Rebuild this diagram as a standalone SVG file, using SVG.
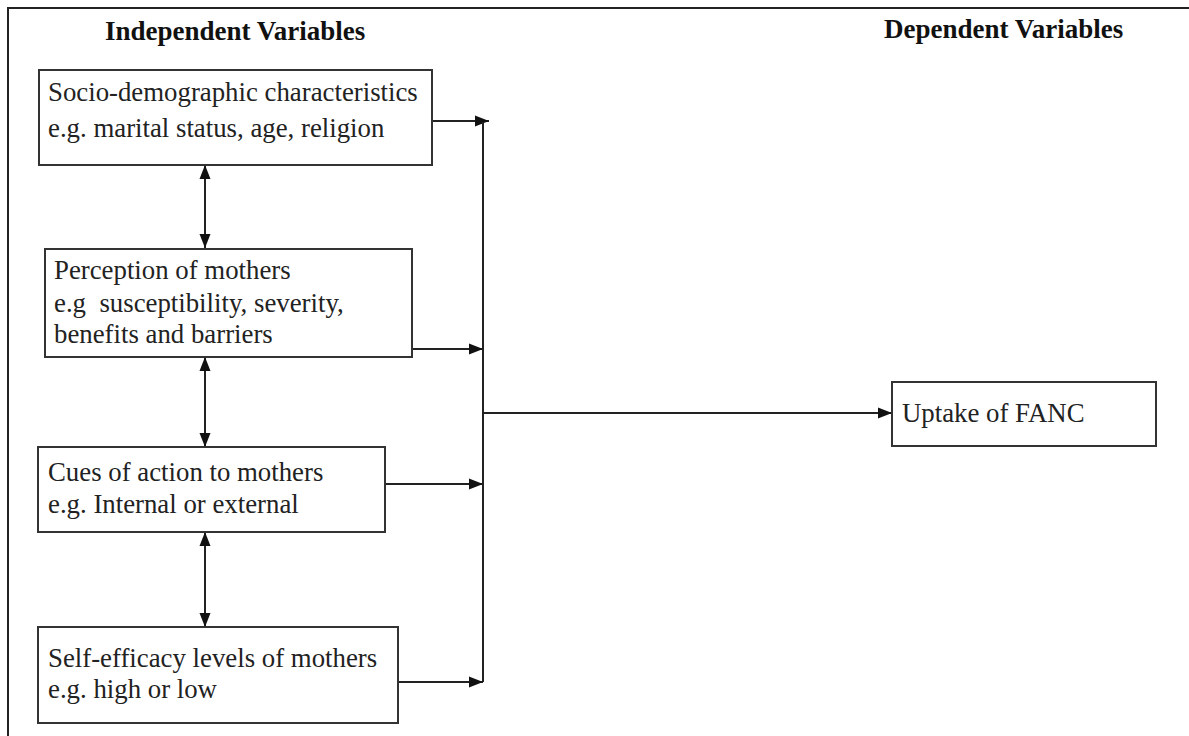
<svg xmlns="http://www.w3.org/2000/svg" width="1189" height="736" viewBox="0 0 1189 736">
<defs>
<marker id="ah2" viewBox="0 0 14 12" refX="14" refY="6" markerWidth="14" markerHeight="12" markerUnits="userSpaceOnUse" orient="auto-start-reverse">
<path d="M0,0.5 L14,6 L0,11.5 Z" fill="#111"/>
</marker>
</defs>
<style>
.box{fill:#fff;stroke:#333;stroke-width:2}
.t{font-family:"Liberation Serif","Times New Roman",serif;font-size:26.8px;fill:#222}
.h{font-family:"Liberation Serif","Times New Roman",serif;font-size:27px;font-weight:bold;fill:#111}
.c{fill:none;stroke:#222;stroke-width:2}
</style>
<rect x="0" y="0" width="1189" height="736" fill="#fff"/>
<rect x="8" y="8" width="1300" height="900" fill="none" stroke="#222" stroke-width="2"/>
<text class="h" x="105" y="40">Independent Variables</text>
<text class="h" x="884" y="38">Dependent Variables</text>
<g id="connectors">
<line class="c" x1="432" y1="121" x2="489" y2="121" marker-end="url(#ah2)"/>
<line class="c" x1="412" y1="349" x2="483" y2="349" marker-end="url(#ah2)"/>
<line class="c" x1="385" y1="484" x2="483" y2="484" marker-end="url(#ah2)"/>
<line class="c" x1="398" y1="682" x2="483" y2="682" marker-end="url(#ah2)"/>
<line class="c" x1="483" y1="122" x2="483" y2="682"/>
<line class="c" x1="482" y1="413" x2="892" y2="413" marker-end="url(#ah2)"/>
<line class="c" x1="205" y1="165" x2="205" y2="248" marker-start="url(#ah2)" marker-end="url(#ah2)"/>
<line class="c" x1="205" y1="357" x2="205" y2="447" marker-start="url(#ah2)" marker-end="url(#ah2)"/>
<line class="c" x1="205" y1="532" x2="205" y2="627" marker-start="url(#ah2)" marker-end="url(#ah2)"/>
</g>
<g id="n1">
<rect class="box" x="39" y="70" width="393" height="95"/>
<text class="t" x="48" y="101">Socio-demographic characteristics</text>
<text class="t" x="48" y="137">e.g. marital status, age, religion</text>
</g>
<g id="n2">
<rect class="box" x="45" y="249" width="367" height="108"/>
<text class="t" x="54" y="279">Perception of mothers</text>
<text class="t" x="54" y="312" xml:space="preserve">e.g  susceptibility, severity,</text>
<text class="t" x="54" y="343">benefits and barriers</text>
</g>
<g id="n3">
<rect class="box" x="38" y="447" width="347" height="85"/>
<text class="t" x="48" y="481">Cues of action to mothers</text>
<text class="t" x="48" y="513">e.g. Internal or external</text>
</g>
<g id="n4">
<rect class="box" x="38" y="627" width="360" height="96"/>
<text class="t" x="48" y="667">Self-efficacy levels of mothers</text>
<text class="t" x="48" y="698">e.g. high or low</text>
</g>
<g id="n5">
<rect class="box" x="892" y="382" width="264" height="64"/>
<text class="t" x="902" y="422">Uptake of FANC</text>
</g>
</svg>
